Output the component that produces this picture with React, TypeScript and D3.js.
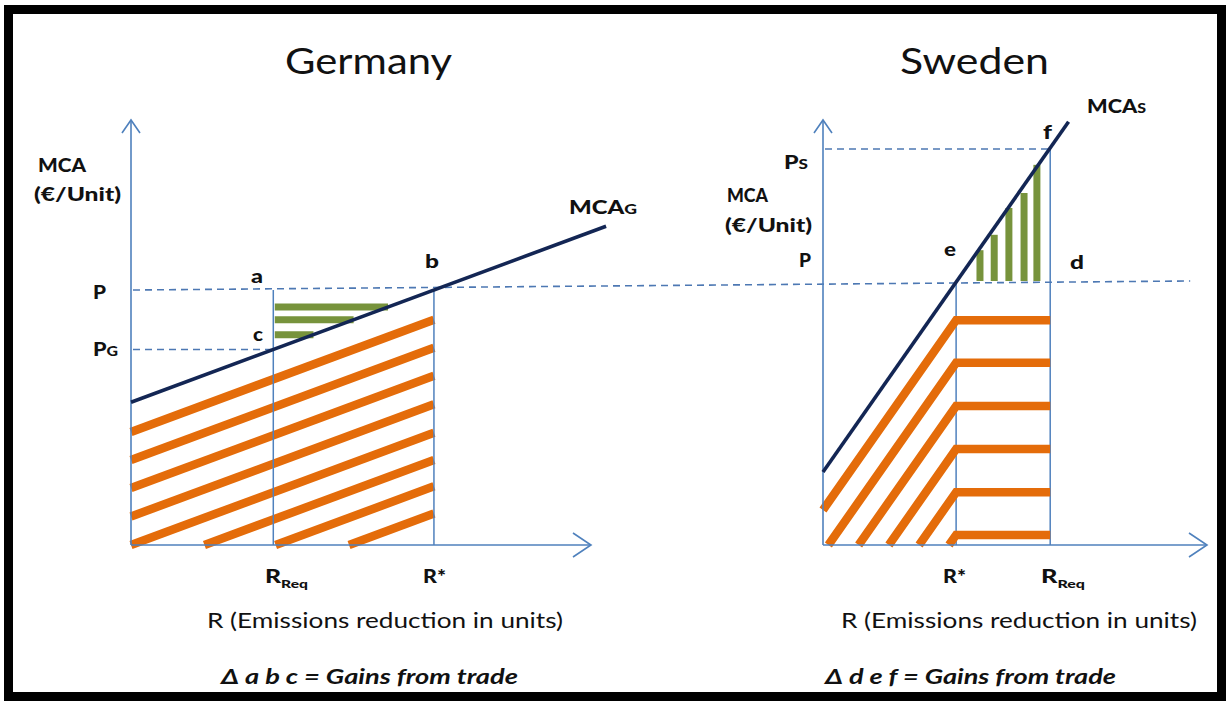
import React from "react";
import * as d3 from "d3";

// ---------- Data (arbitrary units 0..100) ----------
// Germany
const G_MCA_R = [0, 103.5];
const G_MCA_V = [33.6, 75];
const G_R_REQ = 31;
const G_R_STAR = 66;
const G_P = 60;
const G_PG = 46;
const G_STRIPE_INTERCEPTS = [26.6, 20, 13.4, 6.7, 0, -6.4, -12.6, -19];
const G_GAIN_LEVELS = [56, 53, 49.5];

// Sweden
const S_MCA_R = [0, 53.5];
const S_MCA_V = [16.6, 96.2];
const S_R_STAR = 29;
const S_R_REQ = 49.5;
const S_P = 60;
const S_PS = 90;
const S_STRIPE_LEVELS = [51.1, 41.4, 31.6, 21.8, 12.0, 2.3];
const S_GAIN_R = [34.2, 37.3, 40.5, 43.8, 46.6];
const S_GAIN_TOP = [67, 70.5, 76.6, 80, 86.4];

const P_LINE_END_R = 80; // dashed P line reaches this R on Sweden's axis

// ---------- Styles ----------
const W = 1230;
const H = 704;
const AXIS = "#4f81bd";
const DASH = "#4d78b3";
const NAVY = "#132654";
const ORANGE = "#e46c0a";
const GREEN = "#77933c";
const FONT = "Lato, 'Open Sans', sans-serif";
const INK = "#111";

const gx = d3.scaleLinear().domain([0, 100]).range([131, 590]);
const gy = d3.scaleLinear().domain([0, 100]).range([545, 120]);
const sx = d3.scaleLinear().domain([0, 100]).range([823, 1282]);
const sy = d3.scaleLinear().domain([0, 100]).range([545, 105]);

const AXIS_TOP = 120;
const G_AXIS_END = 591;
const S_AXIS_END = 1207;

type TP = {
  x: number;
  y: number;
  w?: number;
  size: number;
  weight?: string | number;
  italic?: boolean;
  children: React.ReactNode;
};
function T({ x, y, w, size, weight = 900, italic = false, children }: TP) {
  return (
    <text
      x={x}
      y={y}
      fontSize={size}
      fontWeight={weight}
      fontStyle={italic ? "italic" : "normal"}
      fontFamily={FONT}
      fill={INK}
      {...(w ? { textLength: w, lengthAdjust: "spacingAndGlyphs" } : {})}
    >
      {children}
    </text>
  );
}

function Axes({ ox, oy, xEnd }: any) {
  const line = d3.line();
  return (
    <g stroke={AXIS} strokeWidth={1.6} fill="none">
      <path d={line([[ox, oy], [ox, AXIS_TOP]])!} />
      <path d={line([[ox, oy], [xEnd, oy]])!} />
      <path d={line([[ox - 9, AXIS_TOP + 13], [ox, AXIS_TOP], [ox + 9, AXIS_TOP + 13]])!} />
      <path d={line([[xEnd - 18, oy - 12], [xEnd, oy], [xEnd - 18, oy + 12]])!} />
    </g>
  );
}

export default function App() {
  const line = d3.line();

  // Germany geometry
  const gm = (G_MCA_V[1] - G_MCA_V[0]) / (G_MCA_R[1] - G_MCA_R[0]);
  const gb = G_MCA_V[0];
  const gStripes = G_STRIPE_INTERCEPTS.map((c) => {
    const x0 = c >= 0 ? 0 : -c / gm;
    const y0 = c >= 0 ? c : 0;
    return line([
      [gx(x0), gy(y0)],
      [gx(G_R_STAR), gy(c + gm * G_R_STAR)],
    ])!;
  });
  const gGains = G_GAIN_LEVELS.map((L) =>
    line([
      [gx(G_R_REQ) + 1.5, gy(L)],
      [gx((L - gb) / gm), gy(L)],
    ])!
  );

  // Sweden geometry
  const sm = (S_MCA_V[1] - S_MCA_V[0]) / (S_MCA_R[1] - S_MCA_R[0]);
  const sStripes = S_STRIPE_LEVELS.map((h) => {
    const x0 = Math.max(0, S_R_STAR - h / sm);
    const y0 = h + sm * (x0 - S_R_STAR);
    return line([
      [sx(x0), sy(y0)],
      [sx(S_R_STAR), sy(h)],
      [sx(S_R_REQ), sy(h)],
    ])!;
  });
  const sGains = S_GAIN_R.map((r, i) =>
    line([
      [sx(r), sy(S_P)],
      [sx(r), sy(S_GAIN_TOP[i])],
    ])!
  );

  return (
    <svg
      width={W}
      height={H}
      viewBox={`0 0 ${W} ${H}`}
      style={{ position: "absolute", left: 0, top: 0, background: "#fff" }}
    >
      <rect x={0} y={0} width={W} height={H} fill="#fff" />

      {/* ---------- Germany ---------- */}
      <g stroke={ORANGE} strokeWidth={8.5} fill="none" strokeLinecap="butt">
        {gStripes.map((d, i) => (
          <path key={i} d={d} />
        ))}
      </g>
      <g stroke={GREEN} strokeWidth={7} fill="none">
        {gGains.map((d, i) => (
          <path key={i} d={d} />
        ))}
      </g>
      <g stroke={AXIS} strokeWidth={1.5}>
        <path d={line([[gx(G_R_REQ), gy(G_P)], [gx(G_R_REQ), gy(0)]])!} />
        <path d={line([[gx(G_R_STAR), gy(G_P)], [gx(G_R_STAR), gy(0)]])!} />
        <path d={line([[sx(S_R_STAR), sy(S_P)], [sx(S_R_STAR), sy(0)]])!} />
        <path d={line([[sx(S_R_REQ), sy(S_PS)], [sx(S_R_REQ), sy(0)]])!} />
      </g>
      <g stroke={DASH} strokeWidth={1.6} strokeDasharray="7 5" fill="none">
        <path d={line([[gx(0) + 2, gy(G_P)], [sx(P_LINE_END_R), sy(S_P)]])!} />
        <path d={line([[gx(0) + 2, gy(G_PG)], [gx(G_R_REQ), gy(G_PG)]])!} />
        <path d={line([[sx(0) + 2, sy(S_PS)], [sx(S_R_REQ), sy(S_PS)]])!} />
      </g>

      {/* ---------- Sweden ---------- */}
      <g stroke={ORANGE} strokeWidth={8.5} fill="none" strokeLinejoin="miter">
        {sStripes.map((d, i) => (
          <path key={i} d={d} />
        ))}
      </g>
      <g stroke={GREEN} strokeWidth={7} fill="none">
        {sGains.map((d, i) => (
          <path key={i} d={d} />
        ))}
      </g>

      <Axes ox={gx(0)} oy={gy(0)} xEnd={G_AXIS_END} />
      <Axes ox={sx(0)} oy={sy(0)} xEnd={S_AXIS_END} />

      <path
        d={line(G_MCA_R.map((r, i) => [gx(r), gy(G_MCA_V[i])]))!}
        stroke={NAVY}
        strokeWidth={3.6}
        fill="none"
      />
      <path
        d={line(S_MCA_R.map((r, i) => [sx(r), sy(S_MCA_V[i])]))!}
        stroke={NAVY}
        strokeWidth={3.6}
        fill="none"
      />

      {/* ---------- Texts: Germany ---------- */}
      <T x={285} y={74} w={167} size={36} weight="normal">Germany</T>
      <T x={38} y={172} w={48} size={19}>MCA</T>
      <T x={34} y={201} w={87} size={19}>(€/Unit)</T>
      <T x={93} y={299} w={13} size={19}>P</T>
      <T x={93} y={356} w={25} size={19}>
        P<tspan fontSize={14}>G</tspan>
      </T>
      <T x={251} y={283} w={12} size={19}>a</T>
      <T x={425} y={268} w={14} size={19}>b</T>
      <T x={253} y={341} w={10} size={19}>c</T>
      <T x={569} y={214} w={68} size={19}>
        MCA<tspan fontSize={14}>G</tspan>
      </T>
      <T x={265} y={583} w={43} size={19}>
        R<tspan fontSize={12} dy={5}>Req</tspan>
      </T>
      <T x={423} y={583} w={23} size={19}>R*</T>
      <T x={207} y={628} w={356} size={21} weight="normal">R (Emissions reduction in units)</T>
      <T x={221} y={684} w={297} size={21} weight="bold" italic>Δ a b c = Gains from trade</T>

      {/* ---------- Texts: Sweden ---------- */}
      <T x={900} y={74} w={149} size={36} weight="normal">Sweden</T>
      <T x={1087} y={113} w={59} size={19}>
        MCA<tspan fontSize={14}>S</tspan>
      </T>
      <T x={1043} y={139} w={9} size={19}>f</T>
      <T x={784} y={169} w={24} size={19}>
        P<tspan fontSize={14}>S</tspan>
      </T>
      <T x={727} y={202} w={41} size={19}>MCA</T>
      <T x={725} y={232} w={87} size={19}>(€/Unit)</T>
      <T x={799} y={267} w={12} size={19}>P</T>
      <T x={944} y={256} w={12} size={19}>e</T>
      <T x={1070} y={269} w={14} size={19}>d</T>
      <T x={943} y={583} w={23} size={19}>R*</T>
      <T x={1041} y={583} w={44} size={19}>
        R<tspan fontSize={12} dy={5}>Req</tspan>
      </T>
      <T x={841} y={628} w={356} size={21} weight="normal">R (Emissions reduction in units)</T>
      <T x={825} y={684} w={291} size={21} weight="bold" italic>Δ d e f = Gains from trade</T>

      {/* frame */}
      <rect x={8.5} y={9.5} width={1213} height={687} fill="none" stroke="#000" strokeWidth={9} />
    </svg>
  );
}
